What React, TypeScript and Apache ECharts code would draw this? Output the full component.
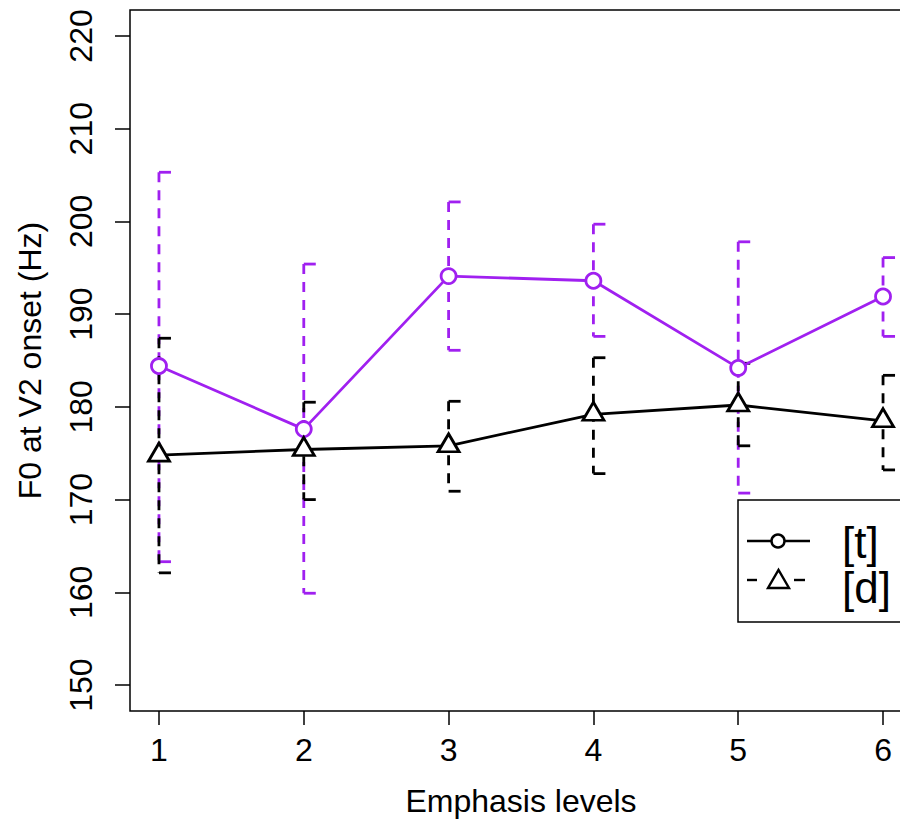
import React, { useEffect, useRef } from "react";
import * as echarts from "echarts";

const levels = [1, 2, 3, 4, 5, 6];
const tMean = [184.4, 177.6, 194.1, 193.6, 184.2, 191.9];
const tLow = [163.3, 159.9, 186.1, 187.6, 170.7, 187.6];
const tHigh = [205.3, 195.4, 202.1, 199.7, 197.8, 196.1];
const dMean = [174.8, 175.4, 175.8, 179.2, 180.2, 178.5];
const dLow = [162.1, 170.0, 170.9, 172.8, 175.8, 173.2];
const dHigh = [187.4, 180.5, 180.6, 185.3, 184.7, 183.4];
const yTicks = [150, 160, 170, 180, 190, 200, 210, 220];
const legendLabels = ["[t]", "[d]"];

const PURPLE = "#A020F0";
const FONT = "'Liberation Sans', Arial, Helvetica, sans-serif";
const LW = 2.8;

function errorSeries(low: number[], high: number[], color: string) {
  return {
    type: "custom",
    data: levels.map((x, i) => [x, low[i], high[i]]),
    z: 2,
    renderItem: (params: any, api: any) => {
      const x = api.value(0);
      const top = api.coord([x, api.value(2)]);
      const bot = api.coord([x, api.value(1)]);
      const style = { stroke: color, lineWidth: LW, fill: null };
      return {
        type: "group",
        children: [
          {
            type: "line",
            shape: { x1: top[0], y1: top[1], x2: bot[0], y2: bot[1] },
            style: { ...style, lineDash: [10, 8] },
          },
          {
            type: "line",
            shape: { x1: top[0], y1: top[1], x2: top[0] + 12, y2: top[1] },
            style,
          },
          {
            type: "line",
            shape: { x1: bot[0], y1: bot[1], x2: bot[0] + 12, y2: bot[1] },
            style,
          },
        ],
      };
    },
  };
}

export default function App() {
  const ref = useRef<HTMLDivElement>(null);
  useEffect(() => {
    const chart = echarts.init(ref.current!, null, { renderer: "svg" });
    const option: any = {
      animation: false,
      backgroundColor: "#fff",
      textStyle: { fontFamily: FONT },
      grid: {
        left: 130,
        top: 10,
        width: 782,
        height: 701,
        show: true,
        borderColor: "#000",
        borderWidth: 1.5,
        containLabel: false,
      },
      xAxis: {
        type: "value",
        min: 0.8,
        max: 6.2,
        name: "Emphasis levels",
        nameLocation: "middle",
        nameGap: 74,
        nameTextStyle: { fontSize: 32, color: "#000", fontFamily: FONT },
        axisLine: { show: false },
        splitLine: { show: false },
        axisTick: {
          show: true,
          customValues: levels,
          length: 14,
          lineStyle: { color: "#000", width: 1.5 },
        },
        axisLabel: {
          customValues: levels,
          fontSize: 32,
          color: "#000",
          margin: 23,
          fontFamily: FONT,
        },
      },
      yAxis: {
        type: "value",
        min: 147.2,
        max: 222.8,
        name: "F0 at V2 onset (Hz)",
        nameLocation: "middle",
        nameRotate: 90,
        nameGap: 84,
        nameTextStyle: { fontSize: 32, color: "#000", fontFamily: FONT },
        axisLine: { show: false },
        splitLine: { show: false },
        axisTick: {
          show: true,
          customValues: yTicks,
          length: 15,
          lineStyle: { color: "#000", width: 1.5 },
        },
        axisLabel: {
          customValues: yTicks,
          rotate: 90,
          fontSize: 32,
          color: "#000",
          margin: 33,
          fontFamily: FONT,
        },
      },
      series: [
        errorSeries(tLow, tHigh, PURPLE),
        errorSeries(dLow, dHigh, "#000"),
        {
          type: "line",
          name: legendLabels[0],
          data: levels.map((x, i) => [x, tMean[i]]),
          z: 3,
          symbol: "circle",
          symbolSize: 15,
          showAllSymbol: true,
          lineStyle: { color: PURPLE, width: LW },
          itemStyle: { color: "#fff", borderColor: PURPLE, borderWidth: LW },
        },
        {
          type: "line",
          name: legendLabels[1],
          data: levels.map((x, i) => [x, dMean[i]]),
          z: 3,
          symbol: "triangle",
          symbolSize: [21, 18],
          symbolOffset: [0, -3],
          showAllSymbol: true,
          lineStyle: { color: "#000", width: LW },
          itemStyle: { color: "#fff", borderColor: "#000", borderWidth: LW },
        },
      ],
      graphic: [
        {
          type: "rect",
          shape: { x: 738, y: 500, width: 200, height: 122 },
          style: { fill: "#fff", stroke: "#000", lineWidth: 1.5 },
          z: 10,
        },
        {
          type: "line",
          shape: { x1: 747, y1: 541, x2: 810, y2: 541 },
          style: { stroke: "#000", lineWidth: 2.4 },
          z: 11,
        },
        {
          type: "circle",
          shape: { cx: 778, cy: 541, r: 6.5 },
          style: { fill: "#fff", stroke: "#000", lineWidth: 2.4 },
          z: 12,
        },
        {
          type: "line",
          shape: { x1: 747, y1: 580, x2: 757, y2: 580 },
          style: { stroke: "#000", lineWidth: 2.4 },
          z: 11,
        },
        {
          type: "line",
          shape: { x1: 794, y1: 580, x2: 805, y2: 580 },
          style: { stroke: "#000", lineWidth: 2.4 },
          z: 11,
        },
        {
          type: "polygon",
          shape: { points: [[768, 588], [789, 588], [778.5, 570]] },
          style: { fill: "#fff", stroke: "#000", lineWidth: 2.4 },
          z: 12,
        },
        {
          type: "text",
          x: 842,
          y: 542,
          style: {
            text: legendLabels[0],
            font: `44px ${FONT}`,
            fill: "#000",
            textVerticalAlign: "middle",
            textAlign: "left",
          },
          z: 12,
        },
        {
          type: "text",
          x: 842,
          y: 587,
          style: {
            text: legendLabels[1],
            font: `44px ${FONT}`,
            fill: "#000",
            textVerticalAlign: "middle",
            textAlign: "left",
          },
          z: 12,
        },
      ],
    };
    chart.setOption(option);
    return () => chart.dispose();
  }, []);
  return (
    <div
      style={{
        position: "fixed",
        left: 0,
        top: 0,
        width: 900,
        height: 822,
        overflow: "hidden",
      }}
    >
      <div ref={ref} style={{ width: 930, height: 822 }} />
    </div>
  );
}
